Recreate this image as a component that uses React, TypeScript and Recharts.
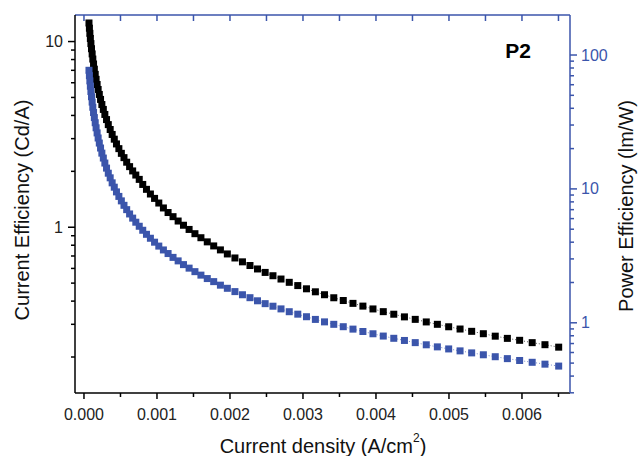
import { ComposedChart, Line, XAxis, YAxis } from 'recharts';

const currentDensity = [
  0.0000685, 0.0000744, 0.0000807, 0.0000875, 0.0000949, 0.000103, 0.000112, 0.000121, 0.000131, 0.000142,
  0.000154, 0.000166, 0.00018, 0.000194, 0.00021, 0.000227, 0.000245, 0.000265, 0.000286, 0.000309,
  0.000333, 0.000359, 0.000386, 0.000415, 0.000445, 0.000478, 0.000512, 0.000548, 0.000585, 0.000625,
  0.000667, 0.00071, 0.000757, 0.000805, 0.000856, 0.00091, 0.000967, 0.001025, 0.001088, 0.001152,
  0.00122, 0.00129, 0.001363, 0.00144, 0.00152, 0.001602, 0.001689, 0.001777, 0.001869, 0.001964,
  0.002068, 0.002171, 0.002274, 0.002377, 0.002482, 0.002589, 0.002699, 0.002812, 0.002929, 0.003048,
  0.00317, 0.003295, 0.003422, 0.003552, 0.003685, 0.003821, 0.003959, 0.0041, 0.004244, 0.00439,
  0.004538, 0.004689, 0.004841, 0.004996, 0.005152, 0.005311, 0.005471, 0.005634, 0.0058, 0.005968,
  0.00614, 0.006315, 0.006503,
];

// Cd/A, left axis
const currentEff = [
  12.59, 11.8, 11.07, 10.39, 9.75, 9.15, 8.58, 8.05, 7.57, 7.1,
  6.66, 6.26, 5.87, 5.52, 5.19, 4.88, 4.58, 4.31, 4.05, 3.8,
  3.57, 3.36, 3.16, 2.98, 2.81, 2.65, 2.5, 2.37, 2.24, 2.12,
  2.01, 1.91, 1.81, 1.7, 1.6, 1.51, 1.43, 1.35, 1.27, 1.2,
  1.14, 1.08, 1.025, 0.973, 0.923, 0.878, 0.834, 0.793, 0.755, 0.718,
  0.683, 0.651, 0.622, 0.596, 0.571, 0.548, 0.526, 0.505, 0.485, 0.466,
  0.449, 0.433, 0.417, 0.403, 0.389, 0.376, 0.363, 0.351, 0.34, 0.329,
  0.319, 0.309, 0.3, 0.291, 0.283, 0.275, 0.267, 0.259, 0.252, 0.246,
  0.239, 0.233, 0.226,
];

// lm/W, right axis
const powerEff = [
  76.9, 70.1, 64.1, 58.5, 53.4, 48.8, 44.5, 40.7, 37.2, 34.1,
  31.2, 28.6, 26.2, 24.0, 22.0, 20.2, 18.5, 17.0, 15.6, 14.3,
  13.1, 12.1, 11.1, 10.3, 9.5, 8.79, 8.14, 7.54, 7.0, 6.5,
  6.05, 5.64, 5.26, 4.91, 4.58, 4.28, 4.0, 3.74, 3.5, 3.29,
  3.08, 2.9, 2.72, 2.56, 2.41, 2.27, 2.14, 2.03, 1.91, 1.81,
  1.71, 1.62, 1.54, 1.46, 1.39, 1.33, 1.27, 1.21, 1.16, 1.11,
  1.06, 1.016, 0.974, 0.935, 0.897, 0.861, 0.828, 0.796, 0.766, 0.738,
  0.711, 0.685, 0.661, 0.638, 0.617, 0.596, 0.577, 0.558, 0.54, 0.523,
  0.507, 0.491, 0.475,
];

const xTicks = [0, 0.0005, 0.001, 0.0015, 0.002, 0.0025, 0.003, 0.0035, 0.004, 0.0045, 0.005, 0.0055, 0.006, 0.0065];
const xLabels = [0, 0.001, 0.002, 0.003, 0.004, 0.005, 0.006];
const ceTicks = [0.2, 0.3, 0.4, 0.5, 0.6, 0.7, 0.8, 0.9, 1, 2, 3, 4, 5, 6, 7, 8, 9, 10];
const ceLabels = [1, 10];
const peTicks = [0.3, 0.4, 0.5, 0.6, 0.7, 0.8, 0.9, 1, 2, 3, 4, 5, 6, 7, 8, 9, 10, 20, 30, 40, 50, 60, 70, 80, 90, 100];
const peLabels = [1, 10, 100];

const data = currentDensity.map((x, i) => ({ x, ce: currentEff[i], pe: powerEff[i] }));

const FONT = '"Liberation Sans", Arial, sans-serif';
const BLUE = '#3b55ab';
const AXIS_W = 1.5;

const isMajor = (v: number, list: number[]) => list.some((m) => Math.abs(m - v) < 1e-9);

function BottomTick(props: any) {
  const { x, y, payload } = props;
  const major = isMajor(payload.value, xLabels);
  return (
    <g>
      <line x1={x} y1={y} x2={x} y2={y + (major ? 6 : 4)} stroke="#000" strokeWidth={AXIS_W} />
      {major && (
        <text x={x} y={y + 21} textAnchor="middle" dominantBaseline="central" fontSize={16} fontFamily={FONT} fill="#222">
          {payload.value.toFixed(3)}
        </text>
      )}
    </g>
  );
}

function TopTick(props: any) {
  const { x, y } = props;
  return <line x1={x} y1={y} x2={x} y2={y + 6} stroke={BLUE} strokeWidth={AXIS_W} />;
}

function LeftTick(props: any) {
  const { x, y, payload } = props;
  const major = isMajor(payload.value, ceLabels);
  return (
    <g>
      <line x1={x - (major ? 7 : 4)} y1={y} x2={x} y2={y} stroke="#000" strokeWidth={AXIS_W} />
      {major && (
        <text x={x - 12} y={y} textAnchor="end" dominantBaseline="central" fontSize={16} fontFamily={FONT} fill="#222">
          {payload.value}
        </text>
      )}
    </g>
  );
}

function RightTick(props: any) {
  const { x, y, payload } = props;
  const major = isMajor(payload.value, peLabels);
  return (
    <g>
      <line x1={x} y1={y} x2={x + (major ? 7 : 4)} y2={y} stroke={BLUE} strokeWidth={AXIS_W} />
      {major && (
        <text x={x + 11} y={y} textAnchor="start" dominantBaseline="central" fontSize={16} fontFamily={FONT} fill={BLUE}>
          {payload.value}
        </text>
      )}
    </g>
  );
}

const squareDot = (color: string) => (props: any) => {
  const { cx, cy, index } = props;
  if (cx == null || cy == null) return <g key={index} />;
  return <rect key={index} x={cx - 3.5} y={cy - 3.5} width={7} height={7} fill={color} />;
};

export default function App() {
  return (
    <div style={{ position: 'absolute', left: 0, top: 0, width: 640, height: 456, background: '#fff' }}>
      <ComposedChart width={640} height={456} data={data} margin={{ top: 0, right: 0, bottom: 0, left: 0 }}>
        <XAxis
          dataKey="x"
          type="number"
          domain={[-0.000123, 0.006658]}
          allowDataOverflow
          ticks={xTicks}
          interval={0}
          height={63}
          tickSize={0}
          tickMargin={0}
          tickLine={false}
          tick={<BottomTick />}
          axisLine={{ stroke: '#000', strokeWidth: AXIS_W }}
        />
        <XAxis
          xAxisId="top"
          orientation="top"
          dataKey="x"
          type="number"
          domain={[-0.000123, 0.006658]}
          allowDataOverflow
          ticks={xTicks}
          interval={0}
          height={15}
          tickSize={0}
          tickMargin={0}
          tickLine={false}
          tick={<TopTick />}
          axisLine={{ stroke: BLUE, strokeWidth: AXIS_W }}
        />
        <YAxis
          yAxisId="left"
          type="number"
          scale="log"
          domain={[0.128, 13.9]}
          allowDataOverflow
          ticks={ceTicks}
          interval={0}
          width={75}
          tickSize={0}
          tickMargin={0}
          tickLine={false}
          tick={<LeftTick />}
          axisLine={{ stroke: '#000', strokeWidth: AXIS_W }}
        />
        <YAxis
          yAxisId="right"
          orientation="right"
          type="number"
          scale="log"
          domain={[0.299, 199]}
          allowDataOverflow
          ticks={peTicks}
          interval={0}
          width={70}
          tickSize={0}
          tickMargin={0}
          tickLine={false}
          tick={<RightTick />}
          axisLine={{ stroke: BLUE, strokeWidth: AXIS_W }}
        />
        <Line
          yAxisId="left"
          dataKey="ce"
          type="linear"
          stroke="#555"
          strokeWidth={1}
          strokeDasharray="1 2"
          dot={squareDot('#000')}
          activeDot={false}
          isAnimationActive={false}
        />
        <Line
          yAxisId="right"
          dataKey="pe"
          type="linear"
          stroke="#7a8ccc"
          strokeWidth={1}
          strokeDasharray="1 2"
          dot={squareDot(BLUE)}
          activeDot={false}
          isAnimationActive={false}
        />
      </ComposedChart>
      <svg width={640} height={456} style={{ position: 'absolute', left: 0, top: 0, pointerEvents: 'none' }}>
        <text x={22} y={210} transform="rotate(-90 22 210)" textAnchor="middle" dominantBaseline="central" fontSize={20} fontFamily={FONT} fill="#111">
          Current Efficiency (Cd/A)
        </text>
        <text x={626} y={206} transform="rotate(-90 626 206)" textAnchor="middle" dominantBaseline="central" fontSize={20} fontFamily={FONT} fill="#111">
          Power Efficiency (lm/W)
        </text>
        <text x={323} y={446} textAnchor="middle" dominantBaseline="central" fontSize={20} fontFamily={FONT} fill="#111">
          Current density (A/cm<tspan dy={-8} fontSize={12}>2</tspan><tspan dy={8}>)</tspan>
        </text>
        <text x={518} y={50} textAnchor="middle" dominantBaseline="central" fontSize={21} fontWeight="bold" fontFamily={FONT} fill="#000">
          P2
        </text>
      </svg>
    </div>
  );
}
